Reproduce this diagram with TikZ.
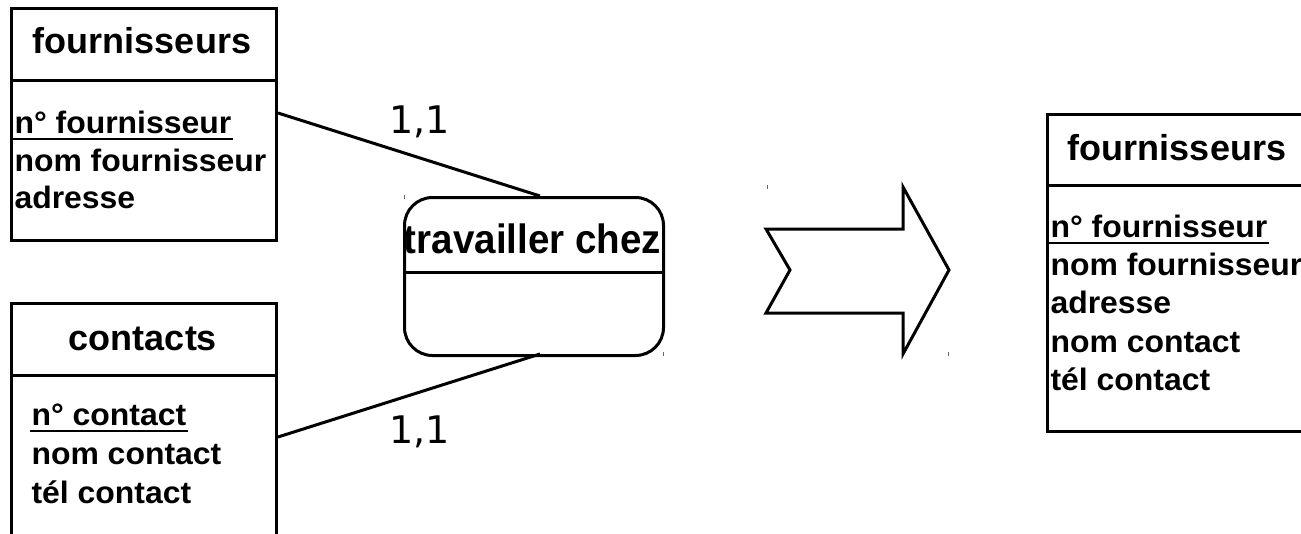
\documentclass[tikz,border=0pt]{standalone}
\usepackage{fontspec}
\setmainfont{Liberation Sans}
\newfontfamily\attrfont[FakeStretch=1.03]{Liberation Sans}
\newfontfamily\relfont[FakeStretch=0.94]{Liberation Sans}
\newfontfamily\cardfont{DejaVu Sans}
\usetikzlibrary{calc}
\begin{document}
\begin{tikzpicture}[x=1pt,y=-1pt,line width=3pt,
  box/.style={draw=black,line width=3pt,rectangle,anchor=north west,inner sep=0pt},
  hdr/.style={anchor=base,inner sep=0pt,font=\bfseries\fontsize{36}{40}\selectfont},
  attr/.style={anchor=base west,inner sep=0pt,font=\attrfont\bfseries\fontsize{31}{33}\selectfont},
  card/.style={anchor=base west,inner sep=0pt,font=\cardfont\fontsize{38}{40}\selectfont},
  uline/.style={line width=2pt},
  tick/.style={line width=1pt,draw=black!60}]
\useasboundingbox (0,0) rectangle (1301,533);
\fill[white] (0,0) rectangle (1301,533);
\begin{scope}
\clip (0,0) rectangle (1301,533);
% entity fournisseurs (left)
\node[box,minimum width=265pt,minimum height=232pt] (fbox) at (10,7) {};
\draw (fbox.west |- 0,80) -- (fbox.east |- 0,80);
\node[hdr] (fh) at (142,53) {fournisseurs};
\node[attr] (fa1) at (13,133) {n° fournisseur};
\node[attr] (fa2) at (13,171) {nom fournisseur};
\node[attr] (fa3) at (13,208) {adresse};
\draw[uline] ($(fa1.base west)+(0,6)$) -- ($(fa1.base east)+(0,6)$);
% entity contacts
\node[box,minimum width=265pt,minimum height=260pt] (cbox) at (10,302) {};
\draw (cbox.west |- 0,375) -- (cbox.east |- 0,375);
\node[hdr] (ch) at (143,350) {contacts};
\node[attr] (ca1) at (30,425) {n° contact};
\node[attr] (ca2) at (30,464) {nom contact};
\node[attr] (ca3) at (30,503) {tél contact};
\draw[uline] ($(ca1.base west)+(0,6)$) -- ($(ca1.base east)+(0,6)$);
% association
\node[box,rounded corners=28pt,minimum width=259pt,minimum height=158pt] (rel) at (403,196) {};
\draw (rel.west |- 0,272) -- (rel.east |- 0,272);
\node[anchor=base,inner sep=0pt,font=\relfont\bfseries\fontsize{41}{44}\selectfont] (rt) at (532.5,253) {travailler chez};
% connectors
\coordinate (p1) at (fbox.east |- 0,113);
\coordinate (r1) at (540,196);
\coordinate (p2) at (cbox.east |- 0,437);
\coordinate (r2) at (540,354);
\draw (p1) -- (r1);
\draw (p2) -- (r2);
\node[card] (k1) at (388,133) {1,1};
\node[card] (k2) at (388,443) {1,1};
% big arrow
\draw[line join=miter] (766,229) -- (903,229) -- (903,187) -- (949,270) -- (903,354) -- (903,313) -- (766,313) -- (790,270) -- cycle;
% small marks
\draw[tick] (404.5,195) -- (404.5,199);
\draw[tick] (663.5,352) -- (663.5,356);
\draw[tick] (767.5,185) -- (767.5,189);
\draw[tick] (948.5,352) -- (948.5,356);
% entity fournisseurs (right)
\node[box,minimum width=300pt,minimum height=317pt] (gbox) at (1046,113) {};
\draw (gbox.west |- 0,185) -- (gbox.east |- 0,185);
\node[hdr] (gh) at (1177,160) {fournisseurs};
\node[attr] (ga1) at (1049,237) {n° fournisseur};
\node[attr] (ga2) at (1049,275) {nom fournisseur};
\node[attr] (ga3) at (1049,313) {adresse};
\node[attr] (ga4) at (1049,352) {nom contact};
\node[attr] (ga5) at (1049,390) {tél contact};
\draw[uline] ($(ga1.base west)+(0,6)$) -- ($(ga1.base east)+(0,6)$);
\end{scope}
\end{tikzpicture}
\end{document}
